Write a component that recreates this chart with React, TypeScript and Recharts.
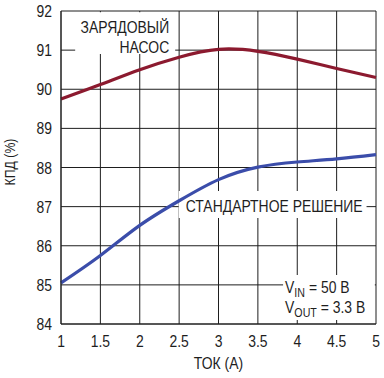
import { LineChart, Line, XAxis, YAxis, CartesianGrid, ReferenceArea, Label } from "recharts";

const currentA = [1, 1.5, 2, 2.5, 3, 3.5, 4, 4.5, 5];
const chargePump = [89.75, 90.12, 90.5, 90.82, 91.02, 90.97, 90.77, 90.53, 90.3];
const standard = [85.05, 85.75, 86.52, 87.15, 87.69, 88.01, 88.14, 88.22, 88.33];
const xTicks = [1, 1.5, 2, 2.5, 3, 3.5, 4, 4.5, 5];
const yTicks = [84, 85, 86, 87, 88, 89, 90, 91, 92];

const data = currentA.map((x, i) => ({ x, pump: chargePump[i], std: standard[i] }));

const FONT = "'Liberation Sans', Arial, sans-serif";
const INK = "#1e1e1e";
const SQUEEZE = 0.82; // no narrow font installed, so compress horizontally
const FS = 17;

function Narrow({ x, y, anchor = "start", size = FS, dy, children }: any) {
  return (
    <text
      transform={`translate(${x} ${y}) scale(${SQUEEZE} 1)`}
      x={0}
      y={0}
      dy={dy}
      textAnchor={anchor}
      fontFamily={FONT}
      fontSize={size}
      fill={INK}
    >
      {children}
    </text>
  );
}

const XTick = (p: any) => (
  <Narrow x={p.x} y={p.y} dy="0.71em" anchor="middle">
    {p.payload.value}
  </Narrow>
);

const YTick = (p: any) => (
  <Narrow x={p.x} y={p.y} dy="0.355em" anchor="end">
    {p.payload.value}
  </Narrow>
);

export default function App() {
  return (
    <div style={{ position: "absolute", left: 0, top: 0, background: "#fff" }}>
      <LineChart width={384} height={378} data={data} margin={{ top: 11, right: 8, bottom: 0, left: 0 }}>
        <CartesianGrid stroke={INK} strokeWidth={1} vertical horizontal />
        <XAxis
          dataKey="x"
          type="number"
          domain={[1, 5]}
          ticks={xTicks}
          height={54}
          tickLine={false}
          tickSize={0}
          tickMargin={11}
          axisLine={{ stroke: INK }}
          tick={XTick}
        >
          <Label
            content={(p: any) => {
              const v = p.viewBox;
              return (
                <Narrow x={v.x + v.width / 2} y={v.y + v.height - 9} anchor="middle">
                  ТОК (А)
                </Narrow>
              );
            }}
          />
        </XAxis>
        <YAxis
          type="number"
          domain={[84, 92]}
          ticks={yTicks}
          width={61}
          tickLine={false}
          tickSize={0}
          tickMargin={9}
          axisLine={{ stroke: INK }}
          tick={YTick}
        />
        {/* white boxes behind the annotations */}
        <ReferenceArea
          x1={1.18}
          x2={2.45}
          y1={90.9}
          y2={91.97}
          fill="#fff"
          fillOpacity={1}
          stroke="none"
          label={(p: any) => {
            const v = p.viewBox;
            return (
              <g>
                <Narrow x={v.x + v.width - 6} y={v.y + 21} anchor="end">ЗАРЯДОВЫЙ</Narrow>
                <Narrow x={v.x + v.width - 6} y={v.y + 41} anchor="end">НАСОС</Narrow>
              </g>
            );
          }}
        />
        <ReferenceArea
          x1={2.495}
          x2={4.88}
          y1={86.71}
          y2={87.4}
          fill="#fff"
          fillOpacity={1}
          stroke="none"
          label={(p: any) => {
            const v = p.viewBox;
            return (
              <Narrow x={v.x + 7} y={v.y + 21}>
                СТАНДАРТНОЕ РЕШЕНИЕ
              </Narrow>
            );
          }}
        />
        <ReferenceArea
          x1={3.82}
          x2={4.985}
          y1={84.1}
          y2={85.25}
          fill="#fff"
          fillOpacity={1}
          stroke="none"
          label={(p: any) => {
            const v = p.viewBox;
            return (
              <g>
                <Narrow x={v.x + 2} y={v.y + 18}>
                  V<tspan fontSize={13} dy={4}>IN</tspan>
                  <tspan dy={-4}> = 50 В</tspan>
                </Narrow>
                <Narrow x={v.x + 2} y={v.y + 38}>
                  V<tspan fontSize={13} dy={4}>OUT</tspan>
                  <tspan dy={-4}> = 3.3 В</tspan>
                </Narrow>
              </g>
            );
          }}
        />
        <Line
          type="natural"
          dataKey="pump"
          stroke="#8c1a2f"
          strokeWidth={3.2}
          dot={false}
          isAnimationActive={false}
        />
        <Line
          type="natural"
          dataKey="std"
          stroke="#3b4daa"
          strokeWidth={3.2}
          dot={false}
          isAnimationActive={false}
        />
        <text
          transform="translate(15 162) rotate(-90) scale(0.82 1)"
          x={0}
          y={0}
          textAnchor="middle"
          fontFamily={FONT}
          fontSize={15}
          fill={INK}
        >
          КПД (%)
        </text>
      </LineChart>
    </div>
  );
}
